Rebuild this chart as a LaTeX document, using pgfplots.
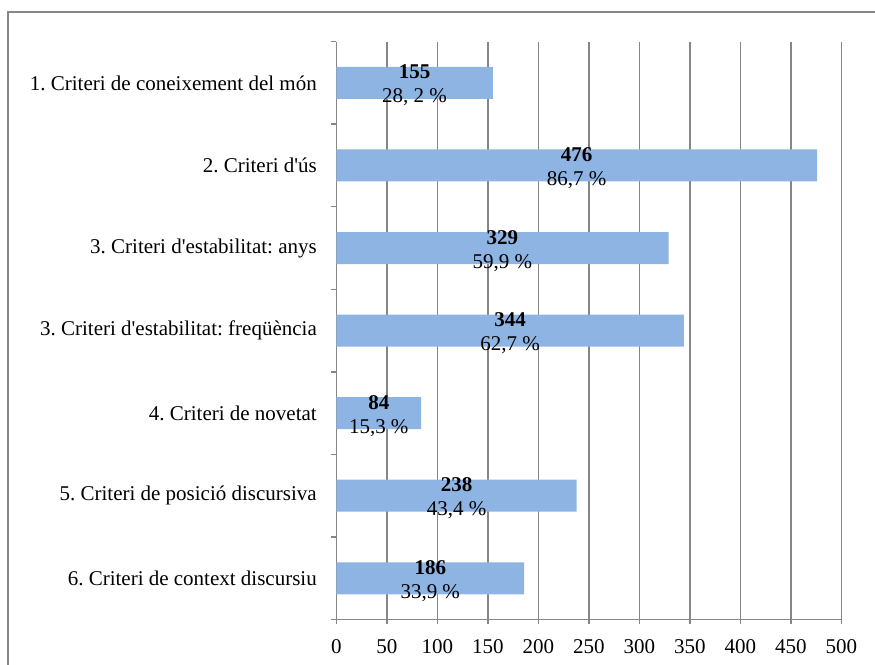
\documentclass[border=0pt]{standalone}
\usepackage{fontspec}
\setmainfont{Liberation Serif}
\usepackage{pgfplots}
\usepackage{pgfplotstable}
\pgfplotsset{compat=1.18}

\definecolor{barblue}{RGB}{141,180,227}
\definecolor{linegray}{RGB}{134,134,134}

% y: position from the bottom (7 = first criterion), v: count, pct: share
\pgfplotstableread[col sep=semicolon]{
y;v;pct
7;155;28, 2
6;476;86,7
5;329;59,9
4;344;62,7
3;84;15,3
2;238;43,4
1;186;33,9
}\criteris

\begin{document}
\frenchspacing
\begin{tikzpicture}[x=1bp,y=1bp,font=\fontsize{21bp}{25bp}\selectfont]
\path[use as bounding box] (0,0) rectangle (875,665);
\draw[linegray, line width=1.5bp] (8,-20) -- (8,653) -- (900,653);
\begin{axis}[
  at={(333,55)}, anchor=south west,
  scale only axis, width=505bp, height=578bp,
  xmin=0, xmax=500, ymin=0.5, ymax=7.5,
  xtick={0,50,...,500},
  ytick={1,...,7},
  yticklabels={
    6. Criteri de context discursiu,
    5. Criteri de posició discursiva,
    4. Criteri de novetat,
    3. Criteri d\textquotesingle estabilitat: freqüència,
    3. Criteri d\textquotesingle estabilitat: anys,
    2. Criteri d\textquotesingle ús,
    1. Criteri de coneixement del món},
  minor ytick={0.5,1.5,...,7.5},
  major tick length=4bp, minor tick length=5bp,
  tick align=outside,
  major y tick style={draw=none},
  tick style={linegray, line width=1.5bp},
  axis x line*=bottom, axis y line*=left,
  axis line style={linegray, line width=1.5bp},
  xmajorgrids,
  major grid style={linegray, line width=1.5bp},
  /pgf/number format/assume math mode=true,
  yticklabel style={xshift=-12bp},
  xticklabel style={yshift=-12bp},
]
\addplot[xbar, bar width=32bp, fill=barblue, draw=none]
  table[x=v, y=y] {\criteris};
\addplot[draw=none, mark=none, point meta=explicit,
  nodes near coords={\bfseries\pgfmathprintnumber{\pgfplotspointmeta}},
  every node near coord/.append style={anchor=base, yshift=4bp, inner sep=0pt}]
  table[x expr=\thisrow{v}/2, y=y, meta=v] {\criteris};
\addplot[draw=none, mark=none, point meta=explicit symbolic,
  nodes near coords={\pgfplotspointmeta\ \%},
  every node near coord/.append style={anchor=base, yshift=-20bp, inner sep=0pt}]
  table[x expr=\thisrow{v}/2, y=y, meta=pct] {\criteris};
\end{axis}
\end{tikzpicture}
\end{document}
